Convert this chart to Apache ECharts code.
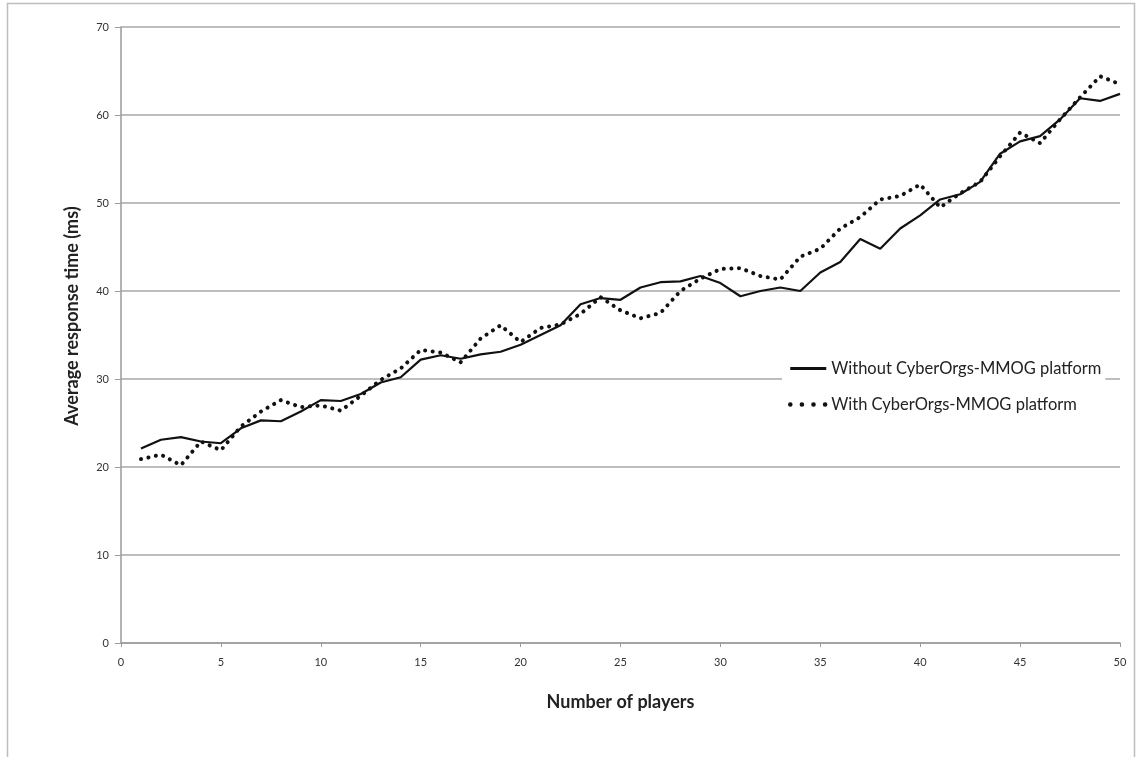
<!DOCTYPE html>
<html>
<head>
<meta charset="utf-8">
<script src="https://cdn.jsdelivr.net/npm/echarts@6/dist/echarts.min.js"></script>
<style>
html,body{margin:0;padding:0;background:#fff;}
#c{width:1139px;height:757px;}
</style>
</head>
<body>
<div id="c"></div>
<script>
var players = [1,2,3,4,5,6,7,8,9,10,11,12,13,14,15,16,17,18,19,20,21,22,23,24,25,26,27,28,29,30,31,32,33,34,35,36,37,38,39,40,41,42,43,44,45,46,47,48,49,50];
var withoutPlatform = [22.1,23.1,23.4,22.9,22.7,24.4,25.3,25.2,26.3,27.6,27.5,28.3,29.6,30.2,32.2,32.7,32.3,32.8,33.1,33.9,35.0,36.1,38.5,39.2,39.0,40.4,41.0,41.1,41.7,40.9,39.4,40.0,40.4,40.0,42.1,43.3,45.9,44.8,47.1,48.6,50.4,51.0,52.4,55.6,57.0,57.6,59.5,61.9,61.6,62.4];
var withPlatform = [20.9,21.4,20.2,22.9,21.9,24.6,26.3,27.6,26.8,27.0,26.4,28.1,29.9,31.2,33.3,33.0,31.9,34.6,36.1,34.2,35.8,36.2,37.4,39.3,37.8,36.9,37.5,40.0,41.4,42.5,42.6,41.7,41.3,43.9,44.8,47.1,48.4,50.4,50.8,52.1,49.5,51.1,52.4,55.3,58.0,56.8,59.5,62.0,64.4,63.5];
var seriesNames = ['Without CyberOrgs-MMOG platform','With CyberOrgs-MMOG platform'];
var xTitle = 'Number of players';
var yTitle = 'Average response time (ms)';

function pairs(ys){ return players.map(function(p,i){ return [p, ys[i]]; }); }

var chart = echarts.init(document.getElementById('c'), null, {renderer:'canvas'});
var font = 'Lato, "Open Sans", sans-serif';
chart.setOption({
  animation:false,
  backgroundColor:'#fff',
  graphic:[{type:'rect', shape:{x:7.5,y:3.5,width:1127,height:770}, style:{fill:'none', stroke:'#bdbdbd', lineWidth:1.5}, z:-1}],
  grid:{left:121, right:19, top:27, bottom:114},
  legend:{
    orient:'vertical', left:782, top:356,
    backgroundColor:'#fff', padding:[4,4,4,6],
    itemWidth:36, itemHeight:14, itemGap:19,
    itemStyle:{color:'rgba(0,0,0,0)', borderWidth:0},
    textStyle:{fontFamily:font, fontSize:16.5, color:'#222'},
    data:[
      {name:seriesNames[0], lineStyle:{width:3, color:'#111'}},
      {name:seriesNames[1], lineStyle:{width:4.5, color:'#111', type:[0.1,11.5], cap:'round'}}
    ]
  },
  xAxis:{
    type:'value', min:0, max:50, interval:5,
    name:xTitle, nameLocation:'middle', nameGap:50,
    nameTextStyle:{fontFamily:font, fontWeight:'bold', fontSize:18, color:'#222'},
    axisLine:{show:true, lineStyle:{color:'#9a9a9a', width:1.5}},
    axisTick:{show:true, length:4, lineStyle:{color:'#9a9a9a'}},
    axisLabel:{margin:14, fontFamily:font, fontSize:11, color:'#333'},
    splitLine:{show:false}
  },
  yAxis:{
    type:'value', min:0, max:70, interval:10,
    name:yTitle, nameLocation:'middle', nameGap:40, nameRotate:90,
    nameTextStyle:{fontFamily:font, fontWeight:'bold', fontSize:18, color:'#222', padding:[0,0,0,38]},
    axisLine:{show:true, lineStyle:{color:'#9a9a9a', width:1.5}},
    axisTick:{show:true, length:6, lineStyle:{color:'#9a9a9a'}},
    axisLabel:{margin:12, fontFamily:font, fontSize:11, color:'#333'},
    splitLine:{show:true, lineStyle:{color:'#a8a8a8', width:1.5}}
  },
  series:[
    {name:seriesNames[0], type:'line', data:pairs(withoutPlatform), symbol:'none', showSymbol:false,
     lineStyle:{color:'#111', width:2.2}, itemStyle:{color:'#111'}, z:3},
    {name:seriesNames[1], type:'line', data:pairs(withPlatform), symbol:'none', showSymbol:false,
     lineStyle:{color:'#111', width:4, type:[0.1,7.5], cap:'round'}, itemStyle:{color:'#111'}, z:2}
  ]
});
</script>
</body>
</html>
